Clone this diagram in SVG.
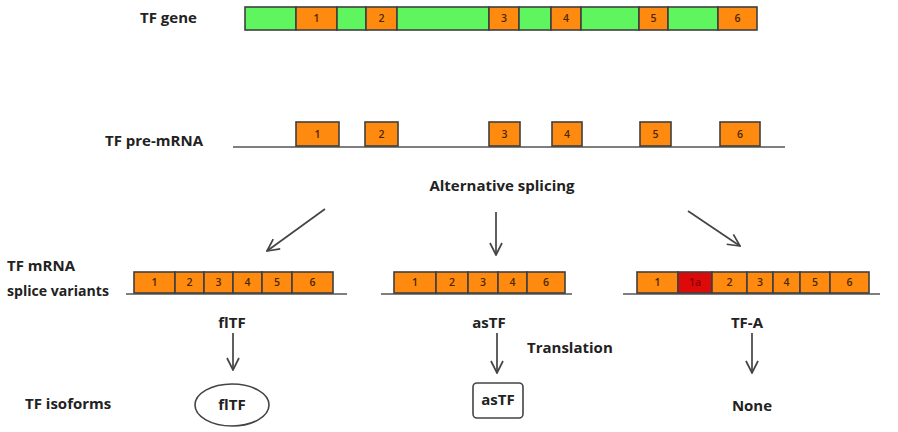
<svg xmlns="http://www.w3.org/2000/svg" width="898" height="432" viewBox="0 0 898 432">
<defs>
<style>
.lbl{font-family:"Open Sans","Liberation Sans",sans-serif;font-weight:bold;font-size:15px;fill:#222}
.num{font-family:"Open Sans","Liberation Sans",sans-serif;font-size:10.5px;font-weight:600;fill:#4a2800;text-anchor:middle}
.g{fill:#5ef55e;stroke:#3f3f3f;stroke-width:1.6}
.o{fill:#ff8a10;stroke:#3f3f3f;stroke-width:1.6}
.r{fill:#dd0a0a;stroke:#3f3f3f;stroke-width:1.6}
.ln{stroke:#555;stroke-width:1.6;fill:none}
.ar{stroke:#444;stroke-width:1.7;fill:none}
</style>
<marker id="ah" viewBox="0 0 14 14" refX="13" refY="7" markerWidth="14" markerHeight="14" markerUnits="userSpaceOnUse" orient="auto">
<path d="M1,1 L13,7 L1,13" fill="none" stroke="#444" stroke-width="1.7"/>
</marker>
</defs>
<rect width="898" height="432" fill="#fff"/>

<g id="tf-gene">
<text class="lbl" x="140" y="23">TF gene</text>
<rect class="g" x="245" y="7" width="51" height="23"/>
<rect class="o" x="296" y="7" width="41" height="23"/><text class="num" x="316.5" y="22">1</text>
<rect class="g" x="337" y="7" width="29" height="23"/>
<rect class="o" x="366" y="7" width="31" height="23"/><text class="num" x="381.5" y="22">2</text>
<rect class="g" x="397" y="7" width="92" height="23"/>
<rect class="o" x="489" y="7" width="30" height="23"/><text class="num" x="504" y="22">3</text>
<rect class="g" x="519" y="7" width="32" height="23"/>
<rect class="o" x="551" y="7" width="30" height="23"/><text class="num" x="566" y="22">4</text>
<rect class="g" x="581" y="7" width="58" height="23"/>
<rect class="o" x="639" y="7" width="29" height="23"/><text class="num" x="653.5" y="22">5</text>
<rect class="g" x="668" y="7" width="50" height="23"/>
<rect class="o" x="718" y="7" width="39" height="23"/><text class="num" x="737.5" y="22">6</text>
</g>

<g id="tf-pre-mrna">
<text class="lbl" x="105" y="146">TF pre-mRNA</text>
<line class="ln" x1="233" y1="147" x2="785" y2="147"/>
<rect class="o" x="296" y="122" width="43" height="24"/><text class="num" x="317.5" y="138">1</text>
<rect class="o" x="365" y="122" width="33" height="24"/><text class="num" x="381.5" y="138">2</text>
<rect class="o" x="489" y="122" width="31" height="24"/><text class="num" x="504.5" y="138">3</text>
<rect class="o" x="552" y="122" width="30" height="24"/><text class="num" x="567" y="138">4</text>
<rect class="o" x="640" y="122" width="31" height="24"/><text class="num" x="655.5" y="138">5</text>
<rect class="o" x="720" y="122" width="40" height="24"/><text class="num" x="740" y="138">6</text>
</g>

<g id="alt-splicing">
<text class="lbl" x="502" y="191" text-anchor="middle">Alternative splicing</text>
</g>

<g id="row-labels">
<text class="lbl" x="7" y="271">TF mRNA</text>
<text class="lbl" x="7" y="296" textLength="102" lengthAdjust="spacingAndGlyphs">splice variants</text>
<text class="lbl" x="25" y="409">TF isoforms</text>
</g>

<g id="fltf-mrna">
<line class="ln" x1="126" y1="294" x2="347" y2="294"/>
<rect class="o" x="134" y="272" width="41" height="21"/><text class="num" x="154.5" y="286">1</text>
<rect class="o" x="175" y="272" width="29" height="21"/><text class="num" x="189.5" y="286">2</text>
<rect class="o" x="204" y="272" width="29" height="21"/><text class="num" x="218.5" y="286">3</text>
<rect class="o" x="233" y="272" width="29" height="21"/><text class="num" x="247.5" y="286">4</text>
<rect class="o" x="262" y="272" width="30" height="21"/><text class="num" x="277" y="286">5</text>
<rect class="o" x="292" y="272" width="41" height="21"/><text class="num" x="312.5" y="286">6</text>
<text class="lbl" x="232" y="328" text-anchor="middle">flTF</text>
</g>

<g id="astf-mrna">
<line class="ln" x1="381" y1="294" x2="572" y2="294"/>
<rect class="o" x="394" y="272" width="42" height="21"/><text class="num" x="415" y="286">1</text>
<rect class="o" x="436" y="272" width="32" height="21"/><text class="num" x="452" y="286">2</text>
<rect class="o" x="468" y="272" width="30" height="21"/><text class="num" x="483" y="286">3</text>
<rect class="o" x="498" y="272" width="29" height="21"/><text class="num" x="512.5" y="286">4</text>
<rect class="o" x="527" y="272" width="38" height="21"/><text class="num" x="546" y="286">6</text>
<text class="lbl" x="489" y="328" text-anchor="middle">asTF</text>
</g>

<g id="tfa-mrna">
<line class="ln" x1="623" y1="294" x2="880" y2="294"/>
<rect class="o" x="637" y="272" width="41" height="21"/><text class="num" x="657.5" y="286">1</text>
<rect class="r" x="678" y="272" width="34" height="21"/><text class="num" x="695" y="286" style="fill:#8a0000">1a</text>
<rect class="o" x="712" y="272" width="35" height="21"/><text class="num" x="729.5" y="286">2</text>
<rect class="o" x="747" y="272" width="26" height="21"/><text class="num" x="760" y="286">3</text>
<rect class="o" x="773" y="272" width="27" height="21"/><text class="num" x="786.5" y="286">4</text>
<rect class="o" x="800" y="272" width="30" height="21"/><text class="num" x="815" y="286">5</text>
<rect class="o" x="830" y="272" width="39" height="21"/><text class="num" x="849.5" y="286">6</text>
<text class="lbl" x="747" y="328" text-anchor="middle">TF-A</text>
</g>

<g id="translation">
<text class="lbl" x="527" y="353">Translation</text>
</g>

<g id="fltf-isoform">
<ellipse cx="232" cy="405" rx="37" ry="21" fill="none" stroke="#444" stroke-width="1.6"/>
<text class="lbl" x="232" y="410" text-anchor="middle">flTF</text>
</g>

<g id="astf-isoform">
<rect x="473" y="383" width="50" height="35" rx="4" fill="none" stroke="#444" stroke-width="1.6"/>
<text class="lbl" x="498" y="405" text-anchor="middle">asTF</text>
</g>

<g id="none">
<text class="lbl" x="752" y="411" text-anchor="middle">None</text>
</g>

<g id="connectors">
<line class="ar" x1="325" y1="209" x2="267" y2="251" marker-end="url(#ah)"/>
<line class="ar" x1="496" y1="212" x2="496" y2="255" marker-end="url(#ah)"/>
<line class="ar" x1="688" y1="211" x2="740" y2="246" marker-end="url(#ah)"/>
<line class="ar" x1="233" y1="333" x2="233" y2="370" marker-end="url(#ah)"/>
<line class="ar" x1="497" y1="333" x2="497" y2="373" marker-end="url(#ah)"/>
<line class="ar" x1="752" y1="333" x2="752" y2="373" marker-end="url(#ah)"/>
</g>
</svg>
